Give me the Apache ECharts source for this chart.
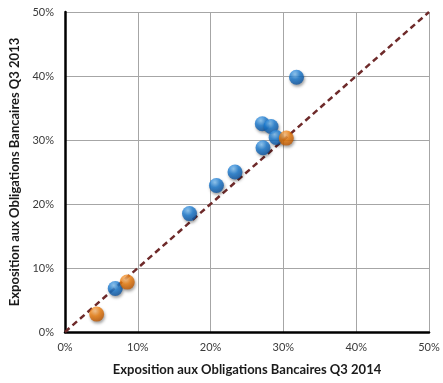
<!DOCTYPE html>
<html>
<head>
<meta charset="utf-8">
<script src="https://cdn.jsdelivr.net/npm/echarts@6/dist/echarts.min.js"></script>
<style>
  html, body { margin: 0; padding: 0; background: #fff; }
  #chart { width: 443px; height: 383px; }
</style>
</head>
<body>
<div id="chart"></div>
<script>
// Bank bond exposure: Q3 2014 (x) vs Q3 2013 (y), in percent
const blueX = [31.8, 27.1, 28.3, 29.0, 27.2, 23.35, 20.8, 17.1, 6.9];
const blueY = [39.8, 32.55, 32.1, 30.4, 28.8, 25.0, 22.9, 18.5, 6.8];
const orangeX = [30.4, 8.55, 4.35];
const orangeY = [30.3, 7.8, 2.8];
const diagonal = [[0, 0], [50, 50]];
const axisTicks = [0, 10, 20, 30, 40, 50];

const xTitle = 'Exposition aux Obligations Bancaires Q3 2014';
const yTitle = 'Exposition aux Obligations Bancaires Q3 2013';

function pairs(xs, ys) { return xs.map((x, i) => [x, ys[i]]); }

function sphere(light, mid, dark) {
  return {
    type: 'radial', x: 0.4, y: 0.3, r: 0.75,
    colorStops: [
      { offset: 0, color: light },
      { offset: 0.45, color: mid },
      { offset: 1, color: dark }
    ]
  };
}

const fontFamily = 'Lato, "Open Sans", sans-serif';

const axisCommon = {
  type: 'value',
  min: axisTicks[0],
  max: axisTicks[axisTicks.length - 1],
  interval: 10,
  axisLine: { show: true, lineStyle: { color: '#000', width: 2.5 } },
  axisTick: { show: false },
  splitLine: { show: true, lineStyle: { color: '#a6a6a6', width: 1 } },
  axisLabel: {
    color: '#3a3a3a', fontSize: 11, fontFamily: fontFamily,
    formatter: v => v + '%'
  },
  nameLocation: 'middle',
  nameTextStyle: { color: '#1a1a1a', fontSize: 13, fontWeight: 'bold', fontFamily: fontFamily }
};

const chart = echarts.init(document.getElementById('chart'), null, { renderer: 'canvas' });
chart.setOption({
  backgroundColor: '#fff',
  animation: false,
  grid: { left: 65, right: 14, top: 12, bottom: 51, containLabel: false },
  xAxis: Object.assign({}, axisCommon, {
    name: xTitle, nameGap: 31,
    axisLabel: Object.assign({}, axisCommon.axisLabel, { margin: 10 })
  }),
  yAxis: Object.assign({}, axisCommon, {
    name: yTitle, nameGap: 39,
    axisLabel: Object.assign({}, axisCommon.axisLabel, { margin: 11 })
  }),
  series: [
    {
      type: 'line',
      data: diagonal,
      symbol: 'none',
      lineStyle: { color: '#6e2a2a', width: 2.5, type: [6, 4] },
      z: 1
    },
    {
      type: 'scatter',
      data: pairs(blueX, blueY),
      symbolSize: 15,
      itemStyle: {
        color: sphere('#86c6f7', '#1a7bd2', '#0b4f99'),
        shadowColor: 'rgba(0,0,0,0.45)', shadowBlur: 3, shadowOffsetX: 1, shadowOffsetY: 2
      },
      z: 3
    },
    {
      type: 'scatter',
      data: pairs(orangeX, orangeY),
      symbolSize: 15,
      itemStyle: {
        color: sphere('#ffc383', '#f0800e', '#b85300'),
        shadowColor: 'rgba(0,0,0,0.45)', shadowBlur: 3, shadowOffsetX: 1, shadowOffsetY: 2
      },
      z: 4
    }
  ]
});
</script>
</body>
</html>
